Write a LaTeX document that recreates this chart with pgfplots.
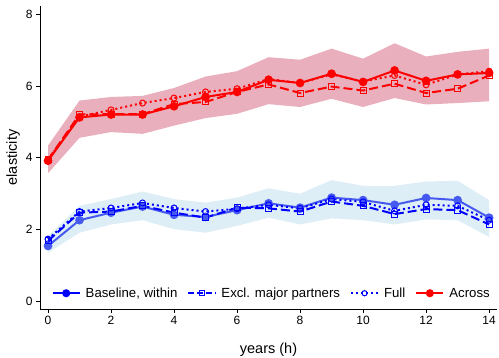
\documentclass[border=0pt]{standalone}
\usepackage{pgfplots}
\pgfplotsset{compat=1.18}
\usepackage{fontspec}
\setmainfont{Liberation Sans}
\definecolor{redband}{RGB}{234,175,189}
\definecolor{blueband}{RGB}{222,238,246}
\definecolor{baseblue}{RGB}{70,90,240}
\begin{document}
\begin{tikzpicture}
\useasboundingbox (-40pt,-49pt) rectangle (459pt,309pt);
\begin{axis}[
  scale only axis, width=457pt, height=303pt,
  at={(0,0)}, anchor=south west,
  xmin=-0.254, xmax=14.25, ymin=-0.22, ymax=8.24,
  axis x line*=bottom, axis y line*=left,
  axis line style={line width=0.9pt, -},
  xtick={0,2,...,14}, ytick={0,2,4,6,8},
  tick align=outside, major tick length=4pt,
  tick style={line width=0.8pt, black},
  /pgf/number format/assume math mode=true,
  ticklabel style={font=\fontsize{12}{14}\selectfont},
  xlabel={years (h)}, ylabel={elasticity},
  label style={font=\fontsize{14.5}{16}\selectfont},
  xlabel style={at={(axis description cs:0.5,0)}, anchor=center, yshift=-41pt},
  ylabel style={at={(axis description cs:-0.059,0.5)}, anchor=center},
  clip=false,
  legend columns=4,
  legend style={draw=none, fill=none, at={(0.507,0.052)}, anchor=center,
    font=\fontsize{13.2}{15}\selectfont,
    /tikz/every odd column/.append style={column sep=3pt},
    /tikz/every even column/.append style={column sep=8pt}},
  legend image code/.code={
    \draw[#1] (0cm,0cm) -- (0.95cm,0cm);
    \draw[#1, solid] plot coordinates {(0.475cm,0cm)};
  },
]
% bands
\addplot[fill=redband, draw=none, forget plot] coordinates {
(0,4.34) (1,5.60) (2,5.70) (3,5.73) (4,5.95) (5,6.27) (6,6.42) (7,6.81) (8,6.74) (9,7.05) (10,6.77) (11,7.20) (12,6.83) (13,6.96) (14,7.05)
(14,5.58) (13,5.53) (12,5.49) (11,5.67) (10,5.42) (9,5.65) (8,5.42) (7,5.50) (6,5.23) (5,5.11) (4,4.90) (3,4.67) (2,4.72) (1,4.56) (0,3.57)} -- cycle;
\addplot[fill=blueband, draw=none, forget plot] coordinates {
(0,1.82) (1,2.66) (2,2.85) (3,3.06) (4,2.85) (5,2.75) (6,2.89) (7,3.15) (8,3.00) (9,3.38) (10,3.22) (11,3.22) (12,3.34) (13,3.36) (14,2.82)
(14,1.79) (13,2.26) (12,2.28) (11,2.14) (10,2.26) (9,2.31) (8,2.14) (7,2.33) (6,2.10) (5,1.91) (4,2.01) (3,2.26) (2,2.14) (1,1.91) (0,1.35)} -- cycle;
% blue series
\addplot[baseblue, line width=2pt, mark=*, mark size=3.3pt, mark options={solid}, forget plot] coordinates {
(0,1.54) (1,2.26) (2,2.47) (3,2.64) (4,2.41) (5,2.35) (6,2.54) (7,2.73) (8,2.61) (9,2.89) (10,2.82) (11,2.69) (12,2.88) (13,2.82) (14,2.33)};
\addplot[blue, line width=2pt, dash pattern=on 9pt off 4pt, mark=square, mark size=3pt, mark options={solid, line width=1pt, fill=white}, forget plot] coordinates {
(0,1.68) (1,2.47) (2,2.50) (3,2.66) (4,2.47) (5,2.33) (6,2.61) (7,2.59) (8,2.50) (9,2.78) (10,2.66) (11,2.43) (12,2.57) (13,2.54) (14,2.14)};
\addplot[blue, line width=2pt, dash pattern=on 2pt off 3pt, mark=o, mark size=3pt, mark options={solid, line width=1pt}, forget plot] coordinates {
(0,1.73) (1,2.50) (2,2.60) (3,2.74) (4,2.60) (5,2.50) (6,2.58) (7,2.69) (8,2.59) (9,2.85) (10,2.77) (11,2.52) (12,2.69) (13,2.66) (14,2.26)};
% red series
\addplot[red, line width=2pt, dash pattern=on 9pt off 4pt, mark=square, mark size=3pt, mark options={solid, line width=1pt}, forget plot] coordinates {
(0,3.95) (1,5.21) (2,5.22) (3,5.22) (4,5.50) (5,5.56) (6,5.84) (7,6.05) (8,5.81) (9,5.99) (10,5.88) (11,6.07) (12,5.81) (13,5.93) (14,6.30)};
\addplot[red, line width=2pt, dash pattern=on 2pt off 3pt, mark=o, mark size=3pt, mark options={solid, line width=1pt}, forget plot] coordinates {
(0,3.95) (1,5.15) (2,5.34) (3,5.53) (4,5.67) (5,5.84) (6,5.93) (7,6.20) (8,6.09) (9,6.33) (10,6.13) (11,6.30) (12,6.04) (13,6.33) (14,6.42)};
\addplot[red, line width=2pt, mark=*, mark size=3.3pt, mark options={solid}, forget plot] coordinates {
(0,3.92) (1,5.13) (2,5.21) (3,5.21) (4,5.44) (5,5.70) (6,5.84) (7,6.18) (8,6.09) (9,6.35) (10,6.12) (11,6.44) (12,6.15) (13,6.33) (14,6.37)};
% legend
\addlegendimage{blue, line width=2pt, mark=*, mark size=3pt}
\addlegendentry{Baseline, within}
\addlegendimage{blue, line width=2pt, dash pattern=on 6pt off 3pt, mark=square, mark size=2.6pt, mark options={solid, line width=1pt, fill=white}}
\addlegendentry{Excl. major partners}
\addlegendimage{blue, line width=2pt, dash pattern=on 2pt off 3pt, mark=o, mark size=2.6pt, mark options={solid, line width=1pt, fill=white}}
\addlegendentry{Full}
\addlegendimage{red, line width=2pt, mark=*, mark size=3pt}
\addlegendentry{Across}
\end{axis}
\end{tikzpicture}
\end{document}
